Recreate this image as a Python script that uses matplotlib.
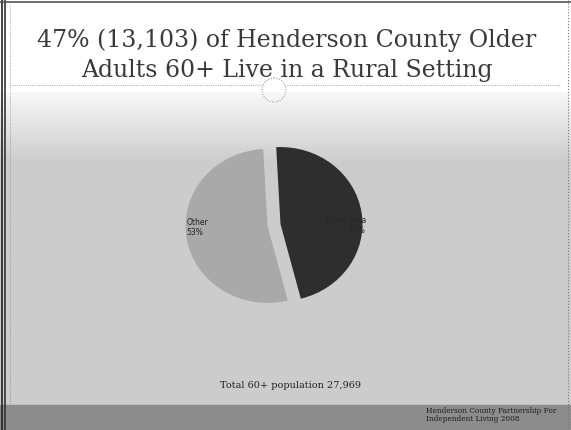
import numpy as np
from matplotlib import pyplot as plt
from matplotlib.patches import Rectangle, Circle

# Henderson County, 60+ population split
slices = ['Rural', 'Other']
people = [13103, 14866]
total_60 = 27969
slice_colors = ['#2e2e2e', '#a9a9a9']

W, H = 571, 430
fig = plt.figure(figsize=(W / 100, H / 100), dpi=100)

# background: white title block fading into light gray
bg = fig.add_axes([0, 0, 1, 1])
grad = np.concatenate([np.ones(92), np.linspace(0.97, 0.80, 70), np.full(H - 162, 0.80)])
bg.imshow(np.tile(grad[:, None], (1, W)), cmap='gray', vmin=0, vmax=1,
          extent=[0, W, H, 0], aspect='auto')
bg.set_xlim(0, W)
bg.set_ylim(H, 0)
bg.axis('off')

# footer band
bg.add_patch(Rectangle((0, 405), W, 25, color='#8c8c8c'))
# slide edges
bg.plot([2, 2], [0, H], color='#222222', lw=1.2)
bg.plot([5, 5], [0, H], color='#333333', lw=1.2)
bg.plot([0, W], [2, 2], color='#555555', lw=1.2)
bg.plot([W - 3, W - 3], [0, H], color='#777777', lw=0.8, ls=':')
bg.plot([10, 10], [5, 405], color='#888888', lw=0.6, ls=':')
bg.plot([12, 262], [85, 85], color='#888888', lw=0.6, ls=':')
bg.plot([287, 560], [85, 85], color='#888888', lw=0.6, ls=':')
bg.add_patch(Circle((274, 90), 12, fill=False, ec='#888888', lw=0.7, ls=':'))

bg.text(287, 40, '47% (13,103) of Henderson County Older', ha='center', va='center',
        fontsize=17, family='DejaVu Serif', color='#3a3a3a')
bg.text(287, 71, 'Adults 60+ Live in a Rural Setting', ha='center', va='center',
        fontsize=17, family='DejaVu Serif', color='#3a3a3a')

bg.text(290, 386, f'Total 60+ population {total_60:,}', ha='center', va='center',
        fontsize=7, family='DejaVu Serif', color='#222222')
bg.text(426, 415, 'Henderson County Partnership For\nIndependent Living 2008', ha='left',
        va='center', fontsize=5.3, family='DejaVu Serif', color='#1e1e1e', linespacing=1.1)

# pie chart
cx, cy = 274, 225
ax = fig.add_axes([(cx - 100) / W, (H - cy - 100) / H, 200 / W, 200 / H])
ax.pie(people, colors=slice_colors, startangle=93, counterclock=False,
       explode=[0.08, 0.08], wedgeprops=dict(linewidth=0))
ax.set_aspect('auto')
ax.set_xlim(-100 / 82, 100 / 82)
ax.set_ylim(-100 / 77, 100 / 77)

shares = [p / sum(people) * 100 for p in people]
ax.text(-1.07, -0.03, f'{slices[1]}\n{shares[1]:.0f}%', ha='left', va='center',
        fontsize=5.5, color='#222222')
ax.text(1.12, -0.01, f'{slices[0]} Area\n{shares[0]:.0f}%', ha='right', va='center',
        fontsize=5.5, color='#262626')

fig.savefig('out.png', dpi=100)
